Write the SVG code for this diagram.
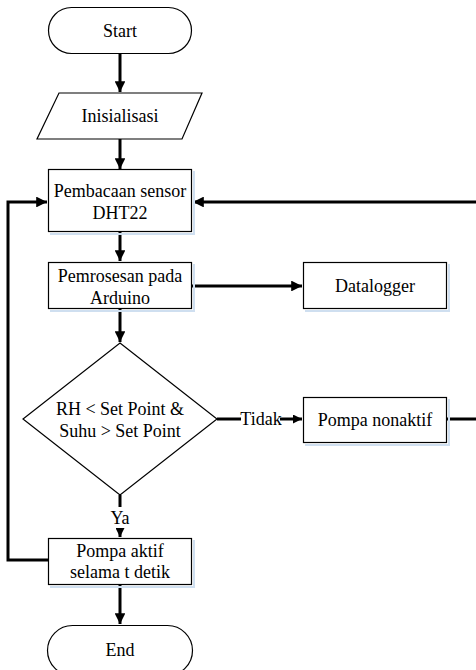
<svg xmlns="http://www.w3.org/2000/svg" width="476" height="670" viewBox="0 0 476 670">
<defs>
<style>
.n{fill:#fff;stroke:#000;stroke-width:1.2}
.t{font-family:"Liberation Serif","Times New Roman",serif;font-size:18px;fill:#000;text-anchor:middle;dominant-baseline:central}
.c{fill:none;stroke:#000;stroke-width:3}
.sh{fill:none;stroke:#cfdff0;stroke-width:2}
</style>
<marker id="ah" viewBox="0 0 10 10" refX="10" refY="5" markerWidth="3.6" markerHeight="3.6" orient="auto" markerUnits="strokeWidth">
<path d="M0,0 L10,5 L0,10 z" fill="#000"/>
</marker>
<marker id="ahs" viewBox="0 0 10 10" refX="10" refY="5" markerWidth="3" markerHeight="3" orient="auto" markerUnits="strokeWidth">
<path d="M0,0 L10,5 L0,10 z" fill="#000"/>
</marker>
</defs>
<rect width="476" height="670" fill="#fff"/>
<g id="connectors">
<line class="c" x1="120" y1="53" x2="120" y2="92" marker-end="url(#ah)"/>
<line class="c" x1="120" y1="139" x2="120" y2="169" marker-end="url(#ah)"/>
<line class="c" x1="120" y1="232" x2="120" y2="261" marker-end="url(#ah)"/>
<line class="c" x1="192" y1="286" x2="302" y2="286" marker-end="url(#ah)"/>
<line class="c" x1="120" y1="309" x2="120" y2="342" marker-end="url(#ah)"/>
<line class="c" x1="217" y1="419" x2="241" y2="419"/>
<line class="c" x1="280" y1="419" x2="302" y2="419" marker-end="url(#ahs)"/>
<polyline class="c" points="447,419 478,419 478,202 193,202" marker-end="url(#ah)"/>
<line class="c" x1="120" y1="495" x2="120" y2="507"/>
<line class="c" x1="120" y1="528" x2="120" y2="537" marker-end="url(#ahs)"/>
<polyline class="c" points="48,560 8,560 8,202 47,202" marker-end="url(#ah)"/>
<line class="c" x1="120" y1="584" x2="120" y2="624" marker-end="url(#ah)"/>
<text class="t" x="261" y="419">Tidak</text>
<text class="t" x="120" y="518">Ya</text>
</g>
<g id="start">
<rect class="n" x="48.5" y="7.5" width="143" height="46" rx="23" ry="23"/>
<text class="t" x="120" y="31">Start</text>
</g>
<g id="init">
<polygon class="n" points="59,93 202,93 182,139 37,139"/>
<text class="t" x="120" y="116">Inisialisasi</text>
</g>
<g id="baca">
<polyline class="sh" points="50,234 194,234 194,171"/>
<rect class="n" x="48.5" y="169.5" width="143" height="62"/>
<text class="t" x="120" y="191">Pembacaan sensor</text>
<text class="t" x="120" y="213">DHT22</text>
</g>
<g id="proses">
<polyline class="sh" points="50,311 194,311 194,264"/>
<rect class="n" x="48.5" y="262.5" width="143" height="46"/>
<text class="t" x="120" y="276">Pemrosesan pada</text>
<text class="t" x="120" y="298">Arduino</text>
</g>
<g id="datalogger">
<polyline class="sh" points="305,311 449,311 449,264"/>
<rect class="n" x="303.5" y="262.5" width="143" height="46"/>
<text class="t" x="375" y="286">Datalogger</text>
</g>
<g id="decision">
<polygon class="n" points="120,343 217,419 120,495 23,419"/>
<text class="t" x="120" y="409">RH &lt; Set Point &amp;</text>
<text class="t" x="120" y="431">Suhu &gt; Set Point</text>
</g>
<g id="nonaktif">
<polyline class="sh" points="305,445 449,445 449,399"/>
<rect class="n" x="303.5" y="397.5" width="143" height="45"/>
<text class="t" x="375" y="420">Pompa nonaktif</text>
</g>
<g id="aktif">
<polyline class="sh" points="50,587 194,587 194,540"/>
<rect class="n" x="48.5" y="538.5" width="143" height="46"/>
<text class="t" x="120" y="551">Pompa aktif</text>
<text class="t" x="120" y="572">selama t detik</text>
</g>
<g id="end">
<rect class="n" x="47.5" y="625.5" width="145" height="50" rx="25" ry="25"/>
<text class="t" x="120" y="650">End</text>
</g>
</svg>
